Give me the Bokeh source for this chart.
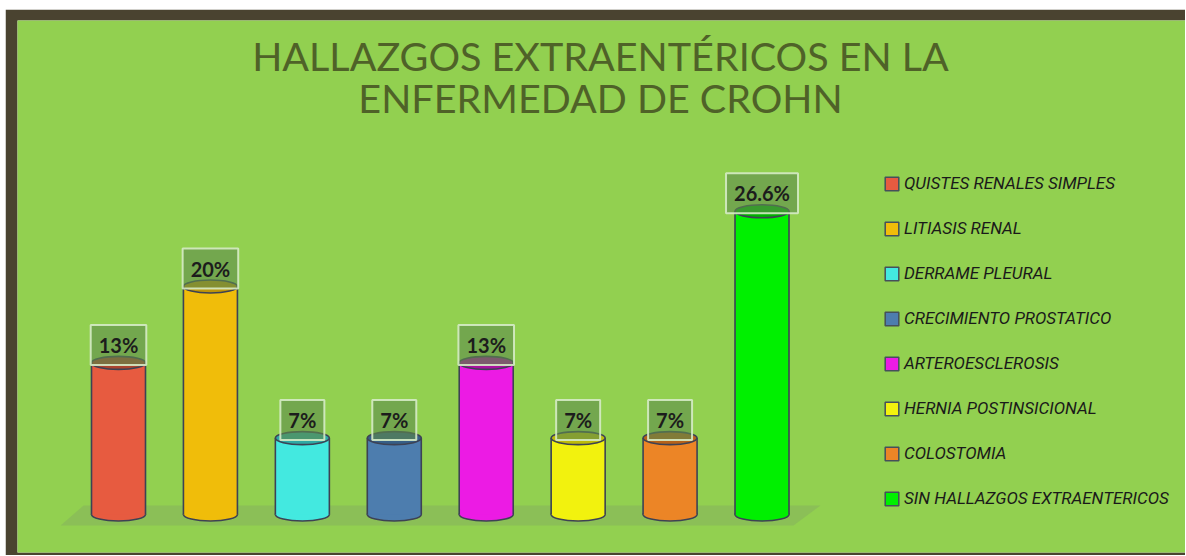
import math
from bokeh.plotting import figure
from bokeh.models import Range1d, Label, Legend, LegendItem, ColumnDataSource
from bokeh.core.properties import value
from bokeh.embed import file_html
from bokeh.resources import INLINE

# ---------------- data ----------------
categories = [
    "QUISTES RENALES SIMPLES",
    "LITIASIS RENAL",
    "DERRAME PLEURAL",
    "CRECIMIENTO PROSTATICO",
    "ARTEROESCLEROSIS",
    "HERNIA POSTINSICIONAL",
    "COLOSTOMIA",
    "SIN HALLAZGOS EXTRAENTERICOS",
]
values = [13.3, 20.0, 6.7, 6.7, 13.3, 6.7, 6.7, 26.6]
labels = ["13%", "20%", "7%", "7%", "13%", "7%", "7%", "26.6%"]
body_colors = ["#E75B40", "#F0BD0A", "#43E9E0", "#4D7DAE", "#EC1BE4", "#F2F20E", "#EC8526", "#00F000"]
top_colors = ["#A9442F", "#BE9508", "#2FA9A4", "#365E86", "#A8119F", "#BDBB0A", "#B5621A", "#00B000"]

title_lines = ["HALLAZGOS EXTRAENTÉRICOS EN LA", "ENFERMEDAD DE CROHN"]

# ---------------- layout ----------------
ML, MT = 5, 9                  # white page area left / top
W, H = 1180, 546
BL, BT, BB = 12, 11, 3         # dark frame widths
FW, FH = W - BL, H - BT - BB   # plot frame size
SX0, SY0 = ML + BL, MT + BT    # frame origin on the page
BASE = 514                     # page y of the bar bases
XC0 = 118                      # page x of the first bar
px_x = 91.93
px_y = 11.4
x0 = -(XC0 - SX0) / px_x
x1 = x0 + FW / px_x
y1 = (BASE - SY0) / px_y
y0 = y1 - FH / px_y

p = figure(width=W, height=H, x_range=Range1d(x0, x1), y_range=Range1d(y0, y1),
           output_backend="svg", toolbar_location=None,
           x_axis_location=None, y_axis_location=None,
           min_border_left=BL, min_border_top=BT, min_border_right=0, min_border_bottom=BB,
           border_fill_color="#4A4330", background_fill_color="#92D050",
           outline_line_color=None)
p.margin = (MT, 0, 0, ML)
p.grid.visible = False

n = len(categories)
xs = list(range(n))
bw = 54 / px_x
eh = 13 / px_y
outline = "#3D4254"

src = ColumnDataSource(dict(x=xs, top=values, label=labels, body=body_colors, tc=top_colors,
                            left=[x - bw / 2 for x in xs], right=[x + bw / 2 for x in xs],
                            zero=[0] * n))

# floor
p.patch([-0.63, -0.38, (n - 1) + 0.636, (n - 1) + 0.343], [-0.96, 0.79, 0.79, -0.96],
        fill_color="#7d9a66", fill_alpha=0.32, line_color=None)

# cylinders
p.ellipse(x="x", y="zero", width=bw, height=eh, fill_color="body", line_color=outline,
          line_width=1.6, source=src)
p.vbar(x="x", top="top", bottom=0, width=bw, fill_color="body", line_color=None, source=src)
p.segment(x0="left", y0="zero", x1="left", y1="top", line_color=outline, line_width=1.6, source=src)
p.segment(x0="right", y0="zero", x1="right", y1="top", line_color=outline, line_width=1.6, source=src)
p.ellipse(x="x", y="top", width=bw, height=eh, fill_color="tc", line_color=outline,
          line_width=1.6, source=src)

# value labels
p.text(x="x", y="top", text="label", source=src, text_align="center", text_baseline="bottom",
       y_offset=2, text_font=value("Lato"), text_font_style="bold", text_font_size="20px",
       text_color="#1C1C1C", background_fill_color="#5F8C4C", background_fill_alpha=0.6,
       border_line_color="#D6EBC6", border_line_width=2, border_line_alpha=0.9, padding=8)

# title
tx = x0 + (600 - SX0) / px_x
for line, sy in zip(title_lines, [55, 97]):
    p.add_layout(Label(x=tx, y=(BASE - sy) / px_y, text=line, text_align="center",
                       text_baseline="middle", text_font="Lato", text_font_size="39.5px",
                       text_color="#4F6228"))

# legend (swatches only: NaN geometry, never drawn in the plot area)
items = []
nan = float("nan")
for cat, c in zip(categories, body_colors):
    r = p.quad(left=[nan], right=[nan], top=[nan], bottom=[nan], fill_color=c,
               line_color="#45505A", line_width=1.5)
    items.append(LegendItem(label=cat, renderers=[r]))
leg = Legend(items=items, location=(883 - SX0, (SY0 + FH) - 509), orientation="vertical",
             glyph_width=17, glyph_height=17, label_standoff=4, label_height=22,
             spacing=23, padding=0, margin=0, border_line_color=None,
             background_fill_alpha=0, label_text_font="Roboto",
             label_text_font_style="italic", label_text_font_size="17px",
             label_text_color="#1A1A1A")
p.add_layout(leg)

open("out.html", "w").write(file_html(p, INLINE))
